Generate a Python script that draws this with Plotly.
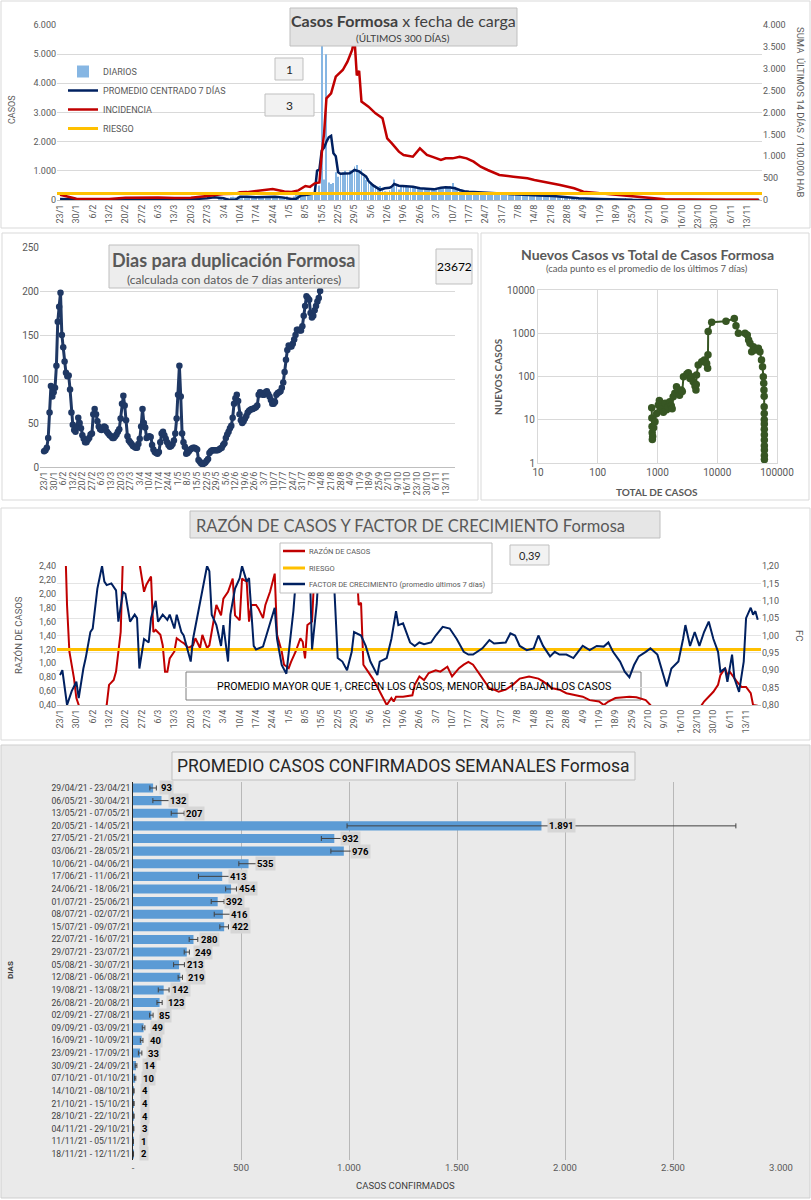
import pandas as pd
import plotly.graph_objects as go

W, H = 811, 1200
FONT = "Roboto, sans-serif"
TFONT = "Lato, sans-serif"
GRAY = "#595959"
START = pd.Timestamp("2021-01-23")

# ---------------- tick labels (weekly) ----------------
TICK_LABELS = ["23/1", "30/1", "6/2", "13/2", "20/2", "27/2", "6/3", "13/3", "20/3", "27/3",
               "3/4", "10/4", "17/4", "24/4", "1/5", "8/5", "15/5", "22/5", "29/5", "5/6",
               "12/6", "19/6", "26/6", "3/7", "10/7", "17/7", "24/7", "31/7", "7/8", "14/8",
               "21/8", "28/8", "4/9", "11/9", "18/9", "25/9", "2/10", "9/10", "16/10", "23/10",
               "30/10", "6/11", "13/11"]

# ---------------- panel 1: casos diarios ----------------
DIARIOS_START = "2021-04-01"
DIARIOS = [60, 70, 40, 30, 80, 100, 110, 90, 120, 140, 70, 60, 130, 110, 100, 120, 90, 80, 70, 110, 120, 100,
           110, 120, 60, 40, 100, 110, 111,
           130, 60, 50, 120, 170, 190, 204,
           180, 200, 150, 170, 230, 250, 269,
           500, 5300, 700, 5000, 600, 550, 587,
           950, 800, 900, 950, 1000, 900, 1024,
           1000, 1150, 1200, 950, 1050, 800, 682,
           750, 600, 550, 500, 450, 480, 415,
           300, 280, 330, 420, 700, 500, 361,
           480, 450, 500, 430, 420, 460, 438,
           400, 420, 380, 370, 390, 400, 384,
           380, 400, 420, 390, 430, 450, 442,
           480, 580, 450, 400, 380, 350, 314,
           300, 290, 280, 270, 280, 270, 270,
           260, 250, 240, 250, 245, 250, 248,
           230, 220, 210, 200, 215, 210, 206,
           230, 210, 220, 215, 225, 210, 223,
           160, 150, 140, 145, 135, 130, 134,
           130, 120, 125, 115, 130, 120, 121,
           100, 90, 85, 80, 85, 75, 80,
           55, 50, 45, 50, 48, 47, 48,
           45, 40, 38, 42, 40, 37, 38,
           35, 34, 32, 33, 30, 35, 32,
           18, 15, 14, 12, 13, 14, 12,
           12, 10, 9, 11, 10, 8, 10,
           5, 4, 3, 4, 5, 3, 4,
           4, 5, 3, 4, 4, 4, 4,
           4, 3, 5, 4, 4, 4, 4,
           3, 3, 4, 3, 2, 3, 3,
           1, 1, 1, 1, 1, 1, 1,
           2, 2, 2, 2, 2, 2, 2]

PROM_DAY = [0, 7, 14, 21, 28, 35, 42, 49, 56, 63, 66, 70, 72, 75, 77, 80, 84, 88, 92, 95, 97, 99, 101,
            103, 106, 108, 109, 110, 111, 112, 113, 114, 115, 116, 117, 118, 119, 120, 122, 124, 126,
            128, 129, 131, 132, 134, 136, 137, 139, 141, 142, 143, 145, 148, 151, 154, 157, 160, 163,
            165, 167, 169, 171, 173, 175, 178, 182, 186, 190, 195, 200, 205, 211, 217, 222, 231, 238,
            245, 260, 280, 299]
PROM_VAL = [30, 15, 10, 15, 20, 25, 20, 20, 25, 60, 90, 60, 10, 5, 110, 110, 90, 100, 110, 90, 60, 35, 40,
            150, 180, 230, 240, 1000, 1050, 1700, 1800, 2000, 2150, 2200, 1600, 1500, 950, 900, 900, 920,
            1030, 980, 920, 800, 650, 500, 400, 350, 400, 420, 460, 550, 490, 470, 457, 400, 390, 365, 420,
            440, 430, 400, 343, 300, 285, 270, 250, 235, 220, 190, 170, 150, 137, 80, 57, 34, 10,
            5, 3, 2, 2]

INC_DAY = [0, 3, 7, 14, 21, 28, 35, 42, 49, 56, 63, 66, 70, 75, 77, 80, 84, 88, 91, 93, 96, 99, 102, 105,
           107, 109, 111, 112, 113, 114, 116, 118, 121, 123, 125, 126, 127, 128, 129, 132, 135, 138, 140,
           142, 145, 147, 151, 154, 157, 160, 163, 165, 168, 171, 174, 177, 180, 183, 186, 188, 194, 200,
           203, 209, 214, 220, 224, 231, 238, 245, 252, 259, 280, 299]
INC_VAL = [120, 80, 30, 20, 25, 50, 60, 55, 45, 50, 90, 110, 137, 140, 175, 180, 210, 230, 251, 230, 195,
           185, 220, 320, 300, 380, 400, 1067, 1524, 2324, 2440, 2819, 2971, 3162, 3429, 3700, 2850, 2950,
           2250, 2133, 1981, 1867, 1410, 1295, 1105, 1029, 990, 1181, 1029, 975, 914, 952, 952, 990, 952,
           876, 762, 686, 610, 571, 533, 495, 457, 400, 343, 267, 190, 152, 114, 76, 38, 15, 8, 5]
RIESGO_INC = 150

# ---------------- panel 2: dias para duplicacion (diario desde 23/1) ----------------
DUP_VAL = [18, 19, 22, 33, 62, 92, 80, 85, 90, 115, 165, 182, 198, 150, 136, 120, 107, 103, 104, 88,
           62, 48, 42, 40, 45, 56, 50, 44, 36, 32, 28, 28, 31, 33, 37, 38, 60, 66, 60, 52,
           46, 43, 42, 43, 46, 45, 40, 38, 36, 35, 33, 33, 35, 37, 40, 43, 55, 72, 81, 70,
           53, 35, 30, 28, 26, 24, 23, 22, 22, 26, 32, 46, 66, 50, 45, 33, 34, 35, 34, 25,
           20, 17, 16, 15, 17, 28, 38, 40, 36, 32, 28, 25, 23, 24, 26, 30, 38, 55, 82, 115,
           80, 38, 28, 23, 15, 16, 18, 20, 21, 22, 22, 21, 20, 8, 6, 4, 3, 4, 5, 7,
           9, 16, 18, 19, 19, 19, 19, 19, 20, 21, 22, 25, 27, 33, 37, 40, 44, 47, 56, 72,
           78, 82, 75, 60, 53, 50, 52, 55, 58, 62, 64, 65, 66, 66, 67, 68, 70, 82, 85, 84,
           82, 82, 85, 86, 83, 80, 76, 72, 72, 74, 82, 84, 85, 86, 90, 96, 108, 122, 133, 138,
           137, 137, 140, 145, 150, 156, 156, 155, 155, 160, 172, 183, 194, 192, 190, 175, 170, 172, 178, 183,
           188, 192, 200]
DUP_BOX = "23672"

# ---------------- panel 3: nuevos casos vs total ----------------
TOTAL_CASOS = [800, 805, 810, 815, 820, 830, 860, 908, 968, 1032, 1075, 1130, 1176, 1253, 1340, 1420, 1500,
               1600, 1700, 1760, 1830, 1950, 2080, 2200, 2340, 2500, 2600, 2720, 3100, 3280, 3500, 3720,
               3960, 4240, 4400, 4450, 4500, 4800, 5500, 6070, 6650, 6900, 7000, 7050, 8070, 14000, 19300,
               20600, 22600, 29100, 31800, 33500, 35300, 37700, 40200, 42800, 48700, 51900, 55000, 57300,
               59000, 60000, 60500, 61000, 61000, 61200, 61200, 61300, 61300, 61400, 61400, 61400, 61500,
               61500, 61500]
NUEVOS_CASOS = [19, 11, 7, 5, 3.5, 4.1, 6.5, 9, 14, 22, 28, 20, 18, 15, 24, 17, 20, 26, 21, 18, 34, 41, 58,
                49, 37, 49, 45, 99, 114, 122, 90, 99, 76, 60, 49, 65, 108, 184, 220, 240, 200, 155, 320,
                1100, 1800, 1900, 2200, 1500, 1000, 1000, 910, 700, 585, 375, 490, 410, 450, 375, 240, 169,
                99, 70, 49, 35, 20, 14, 10, 8, 6, 4.5, 3.4, 2.5, 2.0, 1.5, 1.2]

# ---------------- panel 4: razon de casos y factor de crecimiento ----------------
RAZON_DAY = [2, 3, 4, 6, 7, 8, 10, 19, 20, 21, 23, 24, 26, 27, 28, 33, 34, 36, 37, 39, 40, 41, 43, 44, 45,
             46, 47, 49, 50, 52, 53, 55, 57, 58, 60, 61, 63, 64, 66, 67, 69, 70, 72, 74, 75, 77, 78, 80,
             81, 82, 84, 85, 87, 88, 90, 92, 93, 95, 96, 98, 99, 101, 103, 104, 105, 106, 108, 109, 110,
             126, 127, 128, 129, 130, 132, 134, 136, 138, 140, 142, 143, 144, 147, 151, 152, 154, 156, 158,
             161, 163, 165, 166, 168, 171, 173, 175, 177, 179, 182, 184, 186, 188, 191, 194, 197, 201, 205,
             207, 211, 214, 217, 221, 224, 227, 231, 233, 235, 238, 242, 244, 247, 251, 253, 254, 274, 275,
             276, 278, 280, 282, 283, 285, 286, 287, 289, 290, 292, 294, 296, 297, 299]
RAZON_VAL = [3.0, 1.84, 1.17, 0.78, 0.50, 0.40, 0.2, 0.2, 0.40, 0.69, 0.76, 0.88, 1.45, 2.6, 3.0, 3.0, 2.45,
             2.03, 2.13, 2.25, 1.45, 1.48, 1.41, 1.26, 0.88, 0.88, 1.07, 1.17, 1.36, 1.31, 1.29, 1.22, 1.26,
             1.36, 1.22, 1.41, 1.22, 1.26, 1.65, 1.84, 1.69, 1.93, 2.03, 2.22, 1.69, 1.62, 2.22, 2.17, 1.60,
             1.84, 1.84, 1.79, 1.65, 1.84, 2.03, 2.29, 1.41, 1.17, 0.98, 0.93, 1.02, 1.17, 1.36, 1.31, 1.07,
             1.55, 1.60, 2.6, 3.0, 3.0, 2.5, 1.84, 1.87, 0.98, 0.88, 0.78, 0.66, 0.54, 0.40, 0.50, 0.45,
             0.52, 0.52, 0.54, 0.69, 0.81, 0.76, 0.86, 0.90, 0.88, 0.93, 0.95, 0.81, 0.93, 0.98, 1.02, 0.98,
             0.88, 0.74, 0.64, 0.62, 0.59, 0.62, 0.69, 0.78, 0.81, 0.78, 0.74, 0.64, 0.62, 0.57, 0.54, 0.52,
             0.47, 0.45, 0.40, 0.45, 0.50, 0.52, 0.52, 0.51, 0.47, 0.40, 0.3, 0.3, 0.40, 0.45, 0.52, 0.59,
             0.69, 0.83, 0.93, 0.83, 0.88, 0.78, 0.74, 0.66, 0.66, 0.57, 0.40, 0.39]
FC_DAY = [0, 1, 3, 5, 7, 8, 10, 11, 13, 14, 16, 18, 19, 20, 22, 24, 25, 27, 28, 30, 32, 33, 34, 36, 38, 39,
          41, 42, 44, 46, 47, 49, 50, 52, 53, 55, 56, 57, 59, 61, 63, 64, 65, 67, 69, 70, 72, 73, 75, 77,
          78, 80, 81, 83, 84, 87, 88, 90, 92, 93, 95, 97, 98, 100, 101, 103, 105, 107, 108, 110, 111, 113,
          116, 118, 119, 121, 123, 125, 126, 129, 131, 133, 136, 137, 140, 142, 144, 145, 147, 150, 152,
          154, 156, 159, 161, 164, 167, 170, 173, 175, 177, 181, 184, 186, 189, 191, 193, 195, 197, 200,
          203, 205, 207, 210, 212, 214, 217, 220, 222, 224, 227, 230, 233, 235, 237, 240, 242, 244, 246,
          248, 251, 253, 256, 258, 260, 262, 265, 267, 268, 270, 272, 274, 276, 278, 280, 282, 283, 285,
          286, 288, 289, 291, 293, 294, 296, 297, 298, 299]
FC_VAL = [0.886, 0.90, 0.80, 0.84, 0.867, 0.82, 0.905, 0.935, 1.01, 1.02, 1.135, 1.20, 1.155, 1.145, 1.15,
          1.13, 1.04, 1.125, 1.12, 1.04, 1.06, 1.05, 0.905, 0.99, 0.98, 1.05, 1.10, 1.04, 1.06, 1.045, 1.06,
          1.02, 1.06, 1.01, 1.00, 0.945, 0.925, 0.99, 1.06, 1.125, 1.20, 1.185, 1.06, 1.03, 0.97, 1.03,
          0.925, 1.06, 1.135, 1.165, 1.20, 1.155, 1.165, 0.97, 0.96, 0.968, 0.99, 1.03, 1.08, 0.99, 0.915,
          0.89, 0.953, 1.07, 1.155, 1.20, 1.30, 1.20, 0.96, 1.09, 1.20, 1.35, 1.35, 1.08, 0.935, 0.925,
          0.90, 0.953, 1.01, 1.00, 0.97, 0.925, 0.886, 0.925, 0.935, 0.99, 1.07, 1.03, 1.035, 0.98, 0.97,
          0.98, 0.975, 0.98, 1.00, 1.025, 1.02, 0.99, 0.953, 0.945, 0.945, 0.963, 0.987, 0.977, 0.98, 0.98,
          1.006, 1.00, 0.97, 0.958, 0.963, 1.00, 0.97, 0.94, 0.953, 0.945, 0.945, 0.935, 0.953, 0.97,
          0.958, 0.97, 0.968, 0.98, 0.953, 0.925, 0.896, 0.88, 0.915, 0.94, 0.953, 0.963, 0.945, 0.896,
          0.853, 0.905, 0.925, 0.99, 1.03, 0.97, 1.01, 0.97, 1.01, 1.04, 0.99, 0.953, 0.896, 0.905, 0.867,
          0.945, 0.877, 0.838, 0.925, 1.05, 1.08, 1.06, 1.07, 1.045]
RIESGO_RAZON = 1.2
RAZON_BOX = "0,39"

# ---------------- panel 5: promedio semanal ----------------
SEMANAS = ["29/04/21 - 23/04/21", "06/05/21 - 30/04/21", "13/05/21 - 07/05/21", "20/05/21 - 14/05/21",
           "27/05/21 - 21/05/21", "03/06/21 - 28/05/21", "10/06/21 - 04/06/21", "17/06/21 - 11/06/21",
           "24/06/21 - 18/06/21", "01/07/21 - 25/06/21", "08/07/21 - 02/07/21", "15/07/21 - 09/07/21",
           "22/07/21 - 16/07/21", "29/07/21 - 23/07/21", "05/08/21 - 30/07/21", "12/08/21 - 06/08/21",
           "19/08/21 - 13/08/21", "26/08/21 - 20/08/21", "02/09/21 - 27/08/21", "09/09/21 - 03/09/21",
           "16/09/21 - 10/09/21", "23/09/21 - 17/09/21", "30/09/21 - 24/09/21", "07/10/21 - 01/10/21",
           "14/10/21 - 08/10/21", "21/10/21 - 15/10/21", "28/10/21 - 22/10/21", "04/11/21 - 29/10/21",
           "11/11/21 - 05/11/21", "18/11/21 - 12/11/21"]
PROM_SEMANAL = [93, 132, 207, 1891, 932, 976, 535, 413, 454, 392, 416, 422, 280, 249, 213, 219, 142, 123,
                85, 49, 40, 33, 14, 10, 4, 4, 4, 3, 1, 2]
ERR_SEMANAL = [15, 40, 30, 900, 60, 60, 45, 110, 25, 30, 40, 20, 20, 12, 25, 10, 25, 12, 8, 6, 6, 8, 4, 3,
               1, 1, 1, 1, 0.5, 0.5]
X5_TICKS = [0, 500, 1000, 1500, 2000, 2500, 3000]
X5_TEXT = ["-", "500", "1.000", "1.500", "2.000", "2.500", "3.000"]

C_RED, C_NAVY, C_YEL, C_BLUE = "#C00000", "#002060", "#FFC000", "#5B9BD5"


# ---------------- helpers ----------------
def day(d):
    return START + pd.Timedelta(days=d)


def fx(x):
    return x / W


def fy(y):
    return 1 - y / H


def rect(x0, y0, x1, y1, fill="rgba(0,0,0,0)", line="#d9d9d9", width=1, layer="above"):
    return dict(type="rect", xref="paper", yref="paper", x0=fx(x0), x1=fx(x1), y0=fy(y1), y1=fy(y0),
                fillcolor=fill, line=dict(color=line, width=width), layer=layer)


def hline(x0, x1, y, color, width):
    return dict(type="line", xref="paper", yref="paper", x0=fx(x0), x1=fx(x1), y0=fy(y), y1=fy(y),
                line=dict(color=color, width=width), layer="above")


def txt(x, y, text, size=10, color=GRAY, family=FONT, angle=0, xanchor="center"):
    return dict(x=fx(x), y=fy(y), xref="paper", yref="paper", text=text, showarrow=False,
                font=dict(size=size, color=color, family=family), textangle=angle,
                xanchor=xanchor, yanchor="middle")


tick_dates = [day(7 * i) for i in range(len(TICK_LABELS))]
date_range = [day(-1.3), day(300.4)]

fig = go.Figure()

# ---- panel 1
fig.add_trace(go.Bar(x=pd.date_range(DIARIOS_START, periods=len(DIARIOS), freq="D"), y=DIARIOS,
                     name="DIARIOS", marker_color="#86B6E3", marker_line_width=0, width=0.38 * 86400000,
                     xaxis="x", yaxis="y", legend="legend", legendrank=1))
fig.add_trace(go.Scatter(x=[day(d) for d in PROM_DAY], y=PROM_VAL, name="PROMEDIO CENTRADO 7 DÍAS",
                         mode="lines", line=dict(color=C_NAVY, width=2.5), xaxis="x", yaxis="y",
                         legend="legend", legendrank=2))
fig.add_trace(go.Scatter(x=[day(d) for d in INC_DAY], y=INC_VAL, name="INCIDENCIA", mode="lines",
                         line=dict(color=C_RED, width=2.5), xaxis="x", yaxis="y2",
                         legend="legend", legendrank=3))
fig.add_trace(go.Scatter(x=date_range, y=[RIESGO_INC, RIESGO_INC], name="RIESGO", mode="lines",
                         line=dict(color=C_YEL, width=3), xaxis="x", yaxis="y2",
                         legend="legend", legendrank=4))

# ---- panel 2
fig.add_trace(go.Scatter(x=[day(i) for i in range(len(DUP_VAL))], y=DUP_VAL, mode="lines+markers",
                         line=dict(color="#1F3864", width=3), marker=dict(size=6.5, color="#1F3864"),
                         xaxis="x2", yaxis="y3", showlegend=False))

# ---- panel 3
fig.add_trace(go.Scatter(x=TOTAL_CASOS, y=NUEVOS_CASOS, mode="lines+markers",
                         line=dict(color="#375623", width=2), marker=dict(size=7.5, color="#375623"),
                         xaxis="x3", yaxis="y4", showlegend=False))

# ---- panel 4
fig.add_trace(go.Scatter(x=[day(d) for d in RAZON_DAY], y=RAZON_VAL, name="RAZÓN DE CASOS", mode="lines",
                         line=dict(color=C_RED, width=2), xaxis="x4", yaxis="y5", showlegend=False))
fig.add_trace(go.Scatter(x=date_range, y=[RIESGO_RAZON, RIESGO_RAZON], name="RIESGO", mode="lines",
                         line=dict(color=C_YEL, width=3), xaxis="x4", yaxis="y5", showlegend=False))
fig.add_trace(go.Scatter(x=[day(d) for d in FC_DAY], y=FC_VAL,
                         name="FACTOR DE CRECIMIENTO (promedio últimos 7 días)", mode="lines",
                         line=dict(color=C_NAVY, width=2), xaxis="x4", yaxis="y6", showlegend=False))

# ---- panel 5
fig.add_trace(go.Bar(x=PROM_SEMANAL, y=SEMANAS, orientation="h", marker_color=C_BLUE,
                     marker_line_width=0,
                     error_x=dict(type="data", array=ERR_SEMANAL, color="#404040", thickness=1, width=2.5),
                     xaxis="x5", yaxis="y7", showlegend=False))

tickf = dict(size=9, color=GRAY, family=FONT)
date_axis = dict(type="date", tickmode="array", tickvals=tick_dates, ticktext=TICK_LABELS, tickangle=-90,
                 tickfont=tickf, showgrid=False, showline=True, linecolor="#bfbfbf", ticks="",
                 automargin=False, range=date_range, zeroline=False)

# row geometry for panel 5
row_top, row_bot = 788, 1154
step = (row_bot - row_top) / (len(SEMANAS) - 1)

fig.update_layout(
    width=W, height=H, margin=dict(l=0, r=0, t=0, b=0),
    paper_bgcolor="white", plot_bgcolor="rgba(0,0,0,0)",
    separators=",.", font=dict(family=FONT, color=GRAY), bargap=0.28,
    xaxis=dict(date_axis, domain=[fx(57), fx(762)], anchor="y"),
    yaxis=dict(domain=[fy(200), fy(25)], range=[0, 6000], dtick=1000, tickformat=",", tickfont=tickf,
               gridcolor="#d9d9d9", zeroline=False, automargin=False, anchor="x"),
    yaxis2=dict(overlaying="y", side="right", range=[0, 4000], dtick=500, tickformat=",", tickfont=tickf,
                showgrid=False, zeroline=False, automargin=False, anchor="x"),
    xaxis2=dict(date_axis, domain=[fx(40), fx(455)], range=[day(-3), day(300.7)], anchor="y3"),
    yaxis3=dict(domain=[fy(467), fy(247)], range=[0, 250], dtick=50, tickfont=dict(tickf, size=10),
                gridcolor="#d9d9d9", zeroline=False, automargin=False, anchor="x2"),
    xaxis3=dict(type="log", domain=[fx(538), fx(777)], range=[1, 5], tickmode="array",
                tickvals=[10, 100, 1000, 10000, 100000], ticktext=["10", "100", "1000", "10000", "100000"],
                tickfont=dict(tickf, size=10), gridcolor="#d9d9d9", showline=True, linecolor="#d9d9d9",
                mirror=True, zeroline=False, automargin=False, anchor="y4"),
    yaxis4=dict(type="log", domain=[fy(463), fy(290)], range=[0, 4], tickmode="array",
                tickvals=[1, 10, 100, 1000, 10000], ticktext=["1", "10", "100", "1000", "10000"],
                tickfont=dict(tickf, size=10), gridcolor="#d9d9d9", showline=True, linecolor="#d9d9d9",
                mirror=True, zeroline=False, automargin=False, anchor="x3"),
    xaxis4=dict(date_axis, domain=[fx(57), fx(761)], anchor="y5"),
    yaxis5=dict(domain=[fy(705), fy(566)], range=[0.4, 2.4], dtick=0.2, tickformat=".2f", tickfont=tickf,
                showgrid=False, zeroline=False, automargin=False, anchor="x4"),
    yaxis6=dict(overlaying="y5", side="right", range=[0.8, 1.2], dtick=0.05, tickformat=".2f",
                tickfont=tickf, gridcolor="#e4e4e4", zeroline=False, automargin=False, anchor="x4"),
    xaxis5=dict(domain=[fx(133), fx(781)], range=[0, 3000], tickmode="array", tickvals=X5_TICKS,
                ticktext=X5_TEXT, tickfont=dict(size=9.5, color=GRAY, family=FONT), gridcolor="#b8b8b8",
                zeroline=False, showline=False, automargin=False, anchor="y7"),
    yaxis7=dict(domain=[fy(row_bot + step / 2), fy(row_top - step / 2)], type="category",
                categoryorder="array", categoryarray=SEMANAS, range=[len(SEMANAS) - 0.5, -0.5],
                tickfont=dict(size=8.6, color="#404040", family=FONT), showline=True, linecolor="#262626",
                linewidth=1, showgrid=False, automargin=False, ticks="", anchor="x5"),
    legend=dict(x=fx(63), y=fy(57), xanchor="left", yanchor="top", bgcolor="rgba(0,0,0,0)",
                font=dict(size=9, color=GRAY, family=FONT), traceorder="normal", itemwidth=30),
)

shapes = [
    # panel frames
    rect(1, 1, 810, 228, layer="below"),
    rect(2, 233, 478, 500, layer="below"),
    rect(481, 233, 809, 500, layer="below"),
    rect(1, 508, 810, 740, layer="below"),
    rect(1, 745, 810, 1198, fill="#eaeaea", line="#cfcfcf", layer="below"),
    # panel 1 boxes
    rect(290, 8, 517, 46, fill="#e3e3e3", line="#bfbfbf"),
    rect(275, 58, 303, 80, fill="#f2f2f2", line="#bfbfbf"),
    rect(265, 94, 314, 116, fill="#f2f2f2", line="#bfbfbf"),
    # panel 2 boxes
    rect(109, 245, 359, 288, fill="#ededed", line="#bfbfbf"),
    rect(436, 249, 472, 284, fill="#f2f2f2", line="#bfbfbf"),
    # panel 4 boxes
    rect(190, 511, 660, 538, fill="#e6e6e6", line="#bfbfbf"),
    rect(510, 545, 549, 565, fill="#f2f2f2", line="#bfbfbf"),
    rect(186, 672, 641, 700, line="#7f7f7f", layer="below"),
    # panel 4 legend box
    rect(280, 543, 492, 593, fill="white", line="#bfbfbf"),
    hline(283, 305, 551, C_RED, 2.5),
    hline(283, 305, 568, C_YEL, 3),
    hline(283, 305, 584, C_NAVY, 2.5),
    # panel 5 title box
    rect(172, 752, 635, 780, fill="#f0f0f0", line="#bfbfbf"),
]

annotations = [
    # panel 1
    txt(403, 21, "<b>Casos Formosa</b> x fecha de carga", size=16, color="#404040", family=TFONT),
    txt(403, 38, "(ÚLTIMOS 300 DÍAS)", size=10, color="#404040", family=TFONT),
    txt(289, 69, "1", size=12, color="#262626", family=TFONT),
    txt(289.5, 105, "3", size=12, color="#262626", family=TFONT),
    txt(12, 110, "CASOS", size=9, angle=-90),
    txt(801, 112, "SUMA  ÚLTIMOS 14 DÍAS / 100.000 HAB", size=9.5, angle=90),
    # panel 2
    txt(234, 260, "<b>Dias para duplicación Formosa</b>", size=18, family=TFONT),
    txt(234, 279, "(calculada con datos de 7 días anteriores)", size=12, family=TFONT),
    txt(454, 266.5, DUP_BOX, size=12, color="#000000", family=TFONT),
    # panel 3
    txt(647, 254, "<b>Nuevos Casos vs Total de Casos Formosa</b>", size=14, family=TFONT),
    txt(647, 269, "(cada punto es el promedio de los últimos 7 días)", size=9.5, family=TFONT),
    txt(498, 377, "<b>NUEVOS CASOS</b>", size=10, family=TFONT, angle=-90),
    txt(657, 492, "<b>TOTAL DE CASOS</b>", size=10, family=TFONT),
    # panel 4
    txt(194, 525, "RAZÓN DE CASOS Y FACTOR DE CRECIMIENTO Formosa", size=16.5, family=TFONT, xanchor="left"),
    txt(529.5, 555, RAZON_BOX, size=11, color="#262626", family=TFONT),
    txt(413.5, 686, "PROMEDIO MAYOR QUE 1, CRECEN LOS CASOS, MENOR QUE 1, BAJAN LOS CASOS", size=10.6,
        color="#000000", family=FONT),
    txt(18, 635, "RAZÓN DE CASOS", size=9.5, angle=-90),
    txt(800, 635, "FC", size=9.5, angle=90),
    txt(307, 551, "RAZÓN DE CASOS", size=7.5, xanchor="left"),
    txt(307, 568, "RIESGO", size=7.5, xanchor="left"),
    txt(307, 584, "FACTOR DE CRECIMIENTO (promedio últimos 7 días)", size=7.5, xanchor="left"),
    # panel 5
    txt(403.5, 766, "PROMEDIO CASOS CONFIRMADOS SEMANALES Formosa", size=17.5, color="#262626", family=FONT),
    txt(10, 970, "<b>DIAS</b>", size=8, color="#404040", angle=-90),
    txt(405, 1185, "CASOS CONFIRMADOS", size=9.5, color="#404040", family=FONT),
]

for cat, v in zip(SEMANAS, PROM_SEMANAL):
    annotations.append(dict(x=v, y=cat, xref="x5", yref="y7", text="<b>" + f"{v:,}".replace(",", ".") + "</b>",
                            showarrow=False, xanchor="left", xshift=6, yanchor="middle",
                            font=dict(size=9.5, color="#000000", family=FONT), bgcolor="#d6d6d6",
                            borderpad=1))

fig.update_layout(shapes=shapes, annotations=annotations)

fig.write_html("out.html", config={"displayModeBar": False},
               post_script="document.body.style.margin='0px';")
